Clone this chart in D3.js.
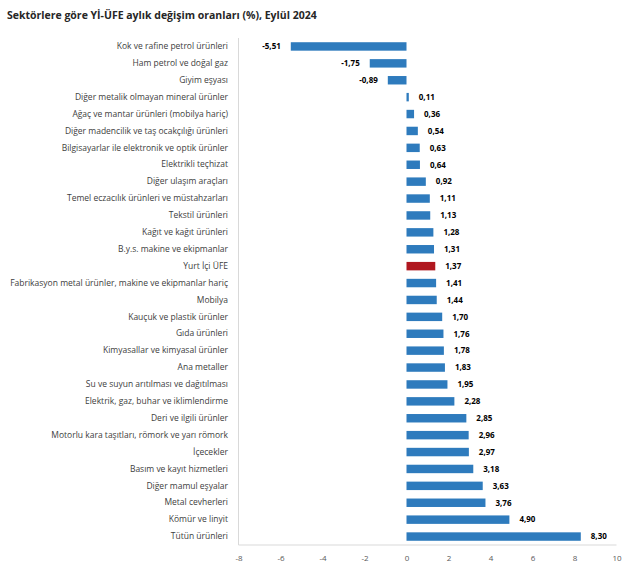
<!DOCTYPE html>
<html><head><meta charset="utf-8">
<script src="https://cdn.jsdelivr.net/npm/d3@7"></script>
<style>body{margin:0;background:#fff}svg{display:block}</style>
</head><body>
<svg id="c" width="630" height="574"></svg>
<script>
const categories = ["Kok ve rafine petrol ürünleri","Ham petrol ve doğal gaz","Giyim eşyası","Diğer metalik olmayan mineral ürünler","Ağaç ve mantar ürünleri (mobilya hariç)","Diğer madencilik ve taş ocakçılığı ürünleri","Bilgisayarlar ile elektronik ve optik ürünler","Elektrikli teçhizat","Diğer ulaşım araçları","Temel eczacılık ürünleri ve müstahzarları","Tekstil ürünleri","Kağıt ve kağıt ürünleri","B.y.s. makine ve ekipmanlar","Yurt İçi ÜFE","Fabrikasyon metal ürünler, makine ve ekipmanlar hariç","Mobilya","Kauçuk ve plastik ürünler","Gıda ürünleri","Kimyasallar ve kimyasal ürünler","Ana metaller","Su ve suyun arıtılması ve dağıtılması","Elektrik, gaz, buhar ve iklimlendirme","Deri ve ilgili ürünler","Motorlu kara taşıtları, römork ve yarı römork","İçecekler","Basım ve kayıt hizmetleri","Diğer mamul eşyalar","Metal cevherleri","Kömür ve linyit","Tütün ürünleri"];
const values = [-5.51,-1.75,-0.89,0.11,0.36,0.54,0.63,0.64,0.92,1.11,1.13,1.28,1.31,1.37,1.41,1.44,1.70,1.76,1.78,1.83,1.95,2.28,2.85,2.96,2.97,3.18,3.63,3.76,4.90,8.30];
const highlight = "Yurt İçi ÜFE";
const xTicks = [-8,-6,-4,-2,0,2,4,6,8,10];
const title = "Sektörlere göre Yİ-ÜFE aylık değişim oranları (%), Eylül 2024";

const svg = d3.select("#c");
const font = "'Segoe UI','Open Sans','DejaVu Sans',sans-serif";
const x = d3.scaleLinear().domain([-8,10]).range([238.5,616.5]);
const y = d3.scaleBand().domain(categories).range([38,545]).paddingInner(0.5).paddingOuter(0.25);

svg.append("text").attr("x",7).attr("y",19).text(title)
  .attr("font-family",font).attr("font-size",10.5).attr("font-weight","bold").attr("fill","#262626");

// axes lines
svg.append("line").attr("x1",x(-8)).attr("x2",x(-8)).attr("y1",38).attr("y2",545).attr("stroke","#d9d9d9");
svg.append("line").attr("x1",x(-8)).attr("x2",x(10)).attr("y1",545).attr("y2",545).attr("stroke","#d9d9d9");

const xa = svg.append("g").attr("transform","translate(0,545)")
  .call(d3.axisBottom(x).tickValues(xTicks).tickSize(0).tickPadding(10).tickFormat(d=>String(d)));
xa.select(".domain").remove();
xa.selectAll("text").attr("font-family",font).attr("font-size",8).attr("fill","#595959");

const ya = svg.append("g").attr("transform","translate(228,0)")
  .call(d3.axisLeft(y).tickSize(0).tickPadding(0));
ya.select(".domain").remove();
ya.selectAll("text").attr("font-family",font).attr("font-size",8.5).attr("fill","#404040");

const data = categories.map((c,i)=>({c,v:values[i]}));
svg.append("g").selectAll("rect").data(data).join("rect")
  .attr("x",d=>x(Math.min(0,d.v))).attr("width",d=>Math.abs(x(d.v)-x(0)))
  .attr("y",d=>y(d.c)).attr("height",y.bandwidth())
  .attr("fill",d=>d.c===highlight?"#b0171f":"#2e7bbd");

svg.append("g").selectAll("text").data(data).join("text")
  .attr("x",d=>d.v<0?x(d.v)-10:x(d.v)+10)
  .attr("y",d=>y(d.c)+y.bandwidth()/2).attr("dy","0.35em")
  .attr("text-anchor",d=>d.v<0?"end":"start")
  .attr("font-family",font).attr("font-size",8).attr("font-weight","bold").attr("fill","#000")
  .text(d=>d.v.toFixed(2).replace(".",","));
</script>
</body></html>
